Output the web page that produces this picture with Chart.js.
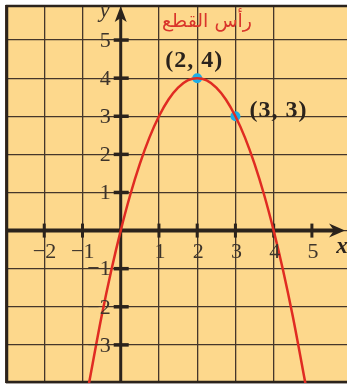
<!DOCTYPE html>
<html>
<head>
<meta charset="utf-8">
<script src="https://cdn.jsdelivr.net/npm/chart.js@4/dist/chart.umd.min.js"></script>
<style>
  html, body { margin: 0; padding: 0; background: #fff; }
  canvas { display: block; }
</style>
</head>
<body>
<canvas id="graph" width="352" height="388"></canvas>
<script>
// Parabole - points
var curveX = [-0.85, -0.5, -0.25, 0, 0.25, 0.5, 0.75, 1, 1.25, 1.5, 1.75, 2,
              2.25, 2.5, 2.75, 3, 3.25, 3.5, 3.75, 4, 4.25, 4.5, 4.85];
var curveY = [-4.12, -2.25, -1.06, 0, 0.94, 1.75, 2.44, 3, 3.44, 3.75, 3.94, 4,
              3.94, 3.75, 3.44, 3, 2.44, 1.75, 0.94, 0, -1.06, -2.25, -4.12];

// Points marqués
var pointX = [2, 3];
var pointY = [4, 3];
var pointLabels = ["(2, 4)", "(3, 3)"];

// Graduations
var xTicks = [-2, -1, 1, 2, 3, 4, 5];
var yTicks = [-3, -2, -1, 1, 2, 3, 4, 5];

var title = "رأس القطع";

var curveData = [];
for (var i = 0; i < curveX.length; i++) {
    curveData.push({x: curveX[i], y: curveY[i]});
}
var pointData = [];
for (var j = 0; j < pointX.length; j++) {
    pointData.push({x: pointX[j], y: pointY[j]});
}

var inkColor = "#2b231c";
var labelColor = "#3d342b";

// fond orange de la zone
var bgPlugin = {
    id: "bg",
    beforeDraw: function(chart) {
        var ctx = chart.ctx, a = chart.chartArea;
        ctx.save();
        ctx.fillStyle = "#fdd88c";
        ctx.fillRect(a.left, a.top, a.right - a.left, a.bottom - a.top);
        ctx.restore();
    }
};

// axes, fleches, graduations
var axesPlugin = {
    id: "axes",
    beforeDatasetsDraw: function(chart) {
        var ctx = chart.ctx, a = chart.chartArea;
        var sx = chart.scales.x, sy = chart.scales.y;
        var x0 = sx.getPixelForValue(0), y0 = sy.getPixelForValue(0);
        ctx.save();
        ctx.strokeStyle = inkColor;
        ctx.fillStyle = inkColor;

        // bordure
        ctx.lineWidth = 2.5;
        ctx.beginPath();
        ctx.moveTo(a.right, a.top + 1);
        ctx.lineTo(a.left + 1, a.top + 1);
        ctx.lineTo(a.left + 1, a.bottom - 1);
        ctx.lineTo(a.right, a.bottom - 1);
        ctx.stroke();

        // axe x
        ctx.lineWidth = 4;
        ctx.beginPath();
        ctx.moveTo(a.left, y0);
        ctx.lineTo(a.right - 8, y0);
        ctx.stroke();
        ctx.beginPath();
        ctx.moveTo(a.right - 2, y0);
        ctx.lineTo(a.right - 18, y0 - 7);
        ctx.lineTo(a.right - 13, y0);
        ctx.lineTo(a.right - 18, y0 + 7);
        ctx.closePath();
        ctx.fill();

        // axe y
        ctx.lineWidth = 3;
        ctx.beginPath();
        ctx.moveTo(x0, a.bottom);
        ctx.lineTo(x0, a.top + 12);
        ctx.stroke();
        ctx.beginPath();
        ctx.moveTo(x0, a.top + 1);
        ctx.lineTo(x0 - 6, a.top + 17);
        ctx.lineTo(x0, a.top + 13);
        ctx.lineTo(x0 + 6, a.top + 17);
        ctx.closePath();
        ctx.fill();

        // graduations
        ctx.lineWidth = 3;
        xTicks.forEach(function(v) {
            var px = sx.getPixelForValue(v);
            ctx.beginPath();
            ctx.moveTo(px, y0 - 7);
            ctx.lineTo(px, y0 + 7);
            ctx.stroke();
        });
        ctx.lineWidth = 3.5;
        yTicks.forEach(function(v) {
            var py = sy.getPixelForValue(v);
            ctx.beginPath();
            ctx.moveTo(x0 - 7, py);
            ctx.lineTo(x0 + 8, py);
            ctx.stroke();
        });
        ctx.restore();
    },
    afterDraw: function(chart) {
        var ctx = chart.ctx;
        var sx = chart.scales.x, sy = chart.scales.y;
        var x0 = sx.getPixelForValue(0), y0 = sy.getPixelForValue(0);
        ctx.save();
        ctx.fillStyle = labelColor;
        ctx.font = "22px 'Liberation Serif'";
        ctx.textBaseline = "middle";

        xTicks.forEach(function(v) {
            var px = sx.getPixelForValue(v);
            if (v < 0) {
                ctx.textAlign = "right";
                ctx.fillText("\u2212" + Math.abs(v), px + 12, y0 + 22);
            } else {
                ctx.textAlign = "center";
                ctx.fillText(String(v), px + 1, y0 + 22);
            }
        });
        ctx.textAlign = "right";
        yTicks.forEach(function(v) {
            var py = sy.getPixelForValue(v);
            var txt = v < 0 ? "\u2212" + Math.abs(v) : String(v);
            ctx.fillText(txt, x0 - 10, py + 1);
        });

        // noms des axes
        ctx.font = "italic bold 23px 'Liberation Serif'";
        ctx.textAlign = "center";
        ctx.fillStyle = inkColor;
        ctx.fillText("x", 342, y0 + 16);
        ctx.font = "italic 23px 'Liberation Serif'";
        ctx.fillStyle = labelColor;
        ctx.fillText("y", x0 - 16, 11);

        // coordonnees des points
        ctx.font = "bold 24px 'Liberation Serif'";
        ctx.letterSpacing = "1px";
        ctx.fillStyle = inkColor;
        ctx.textAlign = "center";
        ctx.fillText(pointLabels[0], sx.getPixelForValue(pointX[0]) - 3, sy.getPixelForValue(pointY[0]) - 17);
        ctx.textAlign = "left";
        ctx.fillText(pointLabels[1], sx.getPixelForValue(pointX[1]) + 14, sy.getPixelForValue(pointY[1]) - 5);
        ctx.letterSpacing = "0px";

        // titre en arabe
        ctx.font = "19px 'DejaVu Sans'";
        ctx.fillStyle = "#d9352b";
        ctx.textAlign = "center";
        ctx.fillText(title, 207, 22);
        ctx.restore();
    }
};

var ctx = document.getElementById("graph");

var myGraph = new Chart(ctx, {
    type: "scatter",
    data: {
        datasets: [
            {
                data: curveData,
                showLine: true,
                borderColor: "#e02b22",
                borderWidth: 2.5,
                pointRadius: 0,
                cubicInterpolationMode: "monotone"
            },
            {
                data: pointData,
                showLine: false,
                pointRadius: 5,
                pointBackgroundColor: "#1eaee8",
                pointBorderColor: "#1eaee8",
                pointBorderWidth: 0
            }
        ]
    },
    options: {
        responsive: false,
        animation: false,
        devicePixelRatio: 1,
        layout: { padding: { left: 6, top: 4, right: 0, bottom: 2 } },
        plugins: {
            legend: { display: false },
            tooltip: { enabled: false }
        },
        scales: {
            x: {
                type: "linear",
                min: -3,
                max: 5.918,
                afterBuildTicks: function(scale) {
                    scale.ticks = scale.ticks.filter(function(t) { return Number.isInteger(t.value); });
                },
                ticks: { display: false, stepSize: 1 },
                grid: { color: "#45362a", lineWidth: 1.3, drawTicks: false },
                border: { display: false }
            },
            y: {
                type: "linear",
                min: -4,
                max: 5.92,
                afterBuildTicks: function(scale) {
                    scale.ticks = scale.ticks.filter(function(t) { return Number.isInteger(t.value); });
                },
                ticks: { display: false, stepSize: 1 },
                grid: { color: "#45362a", lineWidth: 1.3, drawTicks: false },
                border: { display: false }
            }
        }
    },
    plugins: [bgPlugin, axesPlugin]
});
</script>
</body>
</html>
